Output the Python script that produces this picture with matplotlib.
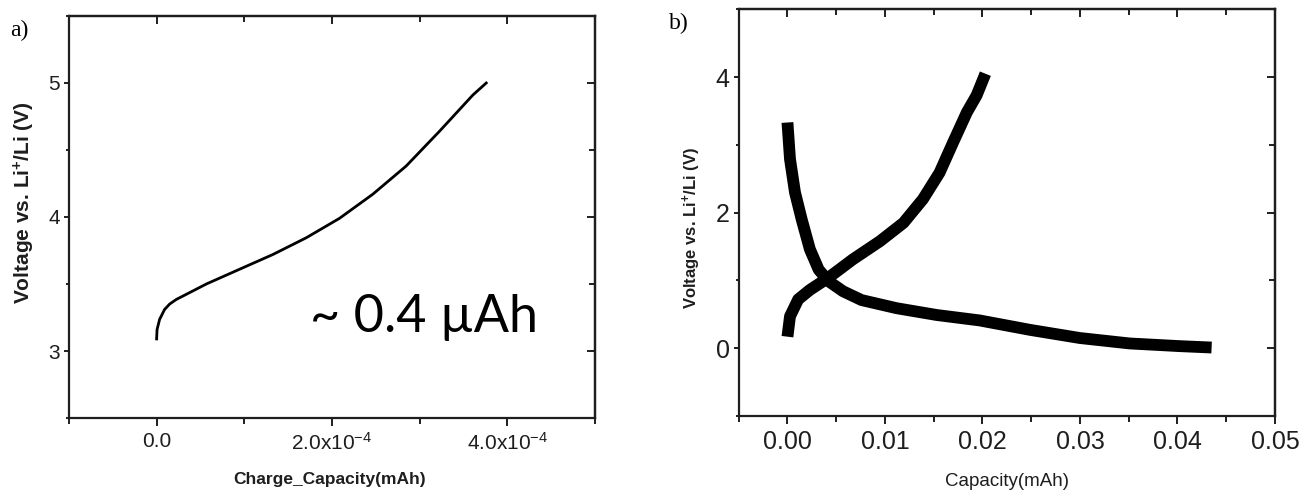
import numpy as np
import matplotlib
matplotlib.use("Agg")
import matplotlib.pyplot as plt
from matplotlib.ticker import MultipleLocator, FixedLocator, FixedFormatter, NullFormatter

plt.rcParams['font.family'] = ['Liberation Sans', 'DejaVu Sans']
plt.rcParams['mathtext.fontset'] = 'custom'
plt.rcParams['mathtext.rm'] = 'Liberation Sans'
plt.rcParams['mathtext.it'] = 'Liberation Sans:italic'
plt.rcParams['mathtext.bf'] = 'Liberation Sans:bold'

# panel a: charge curve (capacity in mAh, voltage in V)
cap_a = [0.0, 0.005e-4, 0.034e-4, 0.091e-4, 0.148e-4, 0.225e-4, 0.30e-4, 0.567e-4,
         0.946e-4, 1.326e-4, 1.707e-4, 2.086e-4, 2.466e-4, 2.846e-4, 3.227e-4,
         3.607e-4, 3.76e-4]
volt_a = [3.09, 3.16, 3.236, 3.31, 3.35, 3.385, 3.41, 3.50,
          3.61, 3.72, 3.845, 3.99, 4.17, 4.38, 4.64,
          4.91, 5.0]

# panel b: discharge and charge curves
cap_dis = [0.0, 0.00026, 0.00077, 0.00146, 0.0023, 0.0032, 0.0042, 0.0057, 0.0076,
           0.0112, 0.0153, 0.0197, 0.0249, 0.030, 0.0351, 0.0403, 0.0435]
volt_dis = [3.33, 2.79, 2.30, 1.90, 1.46, 1.16, 0.99, 0.84, 0.71,
            0.59, 0.49, 0.41, 0.27, 0.15, 0.07, 0.03, 0.01]
cap_chg = [0.0, 0.00026, 0.0011, 0.0023, 0.0042, 0.0067, 0.0095, 0.0119, 0.0139,
           0.0156, 0.0170, 0.0184, 0.0194, 0.0203]
volt_chg = [0.17, 0.47, 0.72, 0.86, 1.04, 1.31, 1.58, 1.85, 2.20,
            2.59, 3.04, 3.48, 3.73, 4.05]

xt_a = [0.0, 2e-4, 4e-4]
xt_a_lbl = ['0.0', r'2.0x10$^{-4}$', r'4.0x10$^{-4}$']
yt_a = [3, 4, 5]
xt_b = [0.0, 0.01, 0.02, 0.03, 0.04, 0.05]
xt_b_lbl = ['0.00', '0.01', '0.02', '0.03', '0.04', '0.05']
yt_b = [0, 2, 4]

ylab = r'Voltage vs. Li$^{\mathbf{+}}$/Li (V)'
ink = '#1e1e1e'

fig = plt.figure(figsize=(13.01, 4.92), dpi=100)
ax1 = fig.add_axes([0.053, 0.1504, 0.4043, 0.8171])
ax2 = fig.add_axes([0.5678, 0.1545, 0.4122, 0.8266])


def style(ax, xmaj, xmin, ymaj, ymin, fs):
    for s in ax.spines.values():
        s.set_linewidth(1.6)
        s.set_color(ink)
    ax.xaxis.set_major_locator(FixedLocator(xmaj))
    ax.xaxis.set_minor_locator(MultipleLocator(xmin))
    ax.yaxis.set_major_locator(FixedLocator(ymaj))
    ax.yaxis.set_minor_locator(MultipleLocator(ymin))
    ax.tick_params(which='both', top=False, right=False, width=1.4, color=ink,
                   direction='out', labelcolor=ink)
    ax.tick_params(axis='x', which='major', length=6, labelsize=fs, pad=4)
    ax.tick_params(axis='x', which='minor', length=4)
    ax.tick_params(axis='y', which='major', length=3.5, labelsize=fs, pad=3)
    ax.tick_params(axis='y', which='minor', length=2.5)
    # mirrored ticks pointing inward on top and right
    top = ax.secondary_xaxis('top')
    top.xaxis.set_major_locator(FixedLocator(xmaj))
    top.xaxis.set_minor_locator(MultipleLocator(xmin))
    top.xaxis.set_major_formatter(NullFormatter())
    top.tick_params(which='both', direction='in', width=1.4, color=ink)
    top.tick_params(which='major', length=6)
    top.tick_params(which='minor', length=4)
    top.spines['top'].set_linewidth(1.6)
    right = ax.secondary_yaxis('right')
    right.yaxis.set_major_locator(FixedLocator(ymaj))
    right.yaxis.set_minor_locator(MultipleLocator(ymin))
    right.yaxis.set_major_formatter(NullFormatter())
    right.tick_params(which='both', direction='in', width=1.4, color=ink)
    right.tick_params(which='major', length=6)
    right.tick_params(which='minor', length=4)
    right.spines['right'].set_linewidth(1.6)


# ---- panel a
ax1.plot(cap_a, volt_a, color='black', lw=2.0)
ax1.set_xlim(-1e-4, 5e-4)
ax1.set_ylim(2.5, 5.5)
style(ax1, xt_a, 1e-4, yt_a, 0.5, 15)
ax1.xaxis.set_major_formatter(FixedFormatter(xt_a_lbl))
ax1.set_xlabel('Charge_Capacity(mAh)', fontsize=12.5, fontweight='bold', color=ink)
ax1.set_ylabel(ylab, fontsize=15, fontweight='bold', color=ink)
ax1.xaxis.set_label_coords(0.496, -0.154)
ax1.yaxis.set_label_coords(-0.084, 0.535)
ax1.xaxis.label.set_va('center')
ax1.yaxis.label.set_va('center')
ax1.text(1.75e-4, 3.14, '~ 0.4 µAh', fontsize=37.5, family=['Lato', 'DejaVu Sans'],
         va='baseline', ha='left', color='black')

# ---- panel b
ax2.plot(cap_dis, volt_dis, color='black', lw=8.5, solid_capstyle='butt')
ax2.plot(cap_chg, volt_chg, color='black', lw=8.5, solid_capstyle='butt')
ax2.set_xlim(-0.005, 0.05)
ax2.set_ylim(-1, 5)
style(ax2, xt_b, 0.005, yt_b, 1, 18)
ax2.xaxis.set_major_formatter(FixedFormatter(xt_b_lbl))
ax2.set_xlabel('Capacity(mAh)', fontsize=13.5, color=ink)
ax2.set_ylabel(ylab, fontsize=12, fontweight='bold', color=ink)
ax2.xaxis.set_label_coords(0.5, -0.162)
ax2.yaxis.set_label_coords(-0.087, 0.462)
ax2.xaxis.label.set_va('center')
ax2.yaxis.label.set_va('center')

fig.text(10 / 1301, 1 - 30 / 492, 'a)', family=['Liberation Serif'], fontsize=17, va='center')
fig.text(669 / 1301, 1 - 23 / 492, 'b)', family=['Liberation Serif'], fontsize=17, va='center')

fig.savefig('out.png', dpi=100)
